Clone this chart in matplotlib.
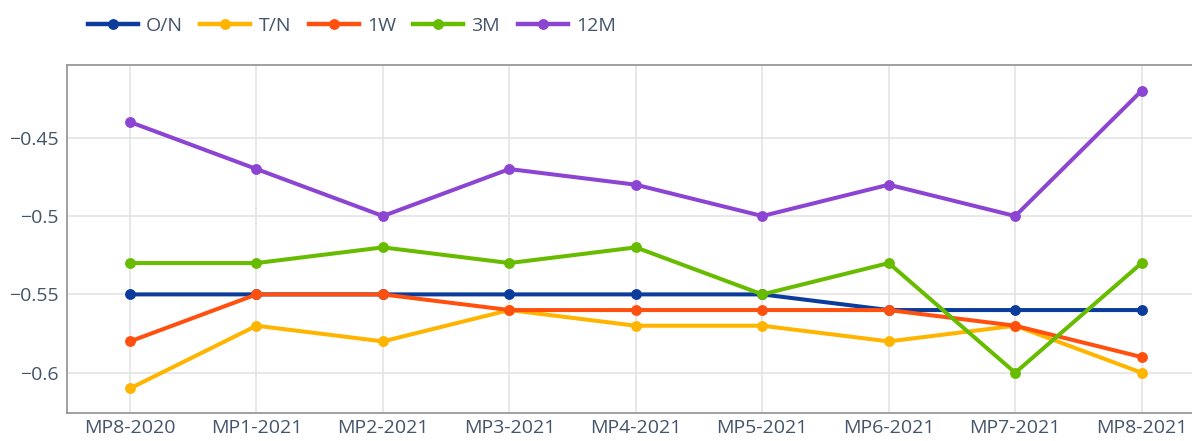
import matplotlib
matplotlib.use("Agg")
import matplotlib.pyplot as plt
from matplotlib.lines import Line2D

categories = ["MP8-2020", "MP1-2021", "MP2-2021", "MP3-2021", "MP4-2021",
              "MP5-2021", "MP6-2021", "MP7-2021", "MP8-2021"]
on_vals  = [-0.55, -0.55, -0.55, -0.55, -0.55, -0.55, -0.56, -0.56, -0.56]
tn_vals  = [-0.61, -0.57, -0.58, -0.56, -0.57, -0.57, -0.58, -0.57, -0.60]
w1_vals  = [-0.58, -0.55, -0.55, -0.56, -0.56, -0.56, -0.56, -0.57, -0.59]
m3_vals  = [-0.53, -0.53, -0.52, -0.53, -0.52, -0.55, -0.53, -0.60, -0.53]
m12_vals = [-0.44, -0.47, -0.50, -0.47, -0.48, -0.50, -0.48, -0.50, -0.42]
series_names = ["O/N", "T/N", "1W", "3M", "12M"]
ytick_vals = [-0.6, -0.55, -0.5, -0.45]
ytick_labels = ["\u22120.6", "\u22120.55", "\u22120.5", "\u22120.45"]

colors = ["#0B3C9C", "#FFB400", "#FF5010", "#68BC00", "#8C45D2"]
series = [on_vals, tn_vals, w1_vals, m3_vals, m12_vals]

plt.rcParams['font.family'] = ['Open Sans', 'DejaVu Sans']
fig = plt.figure(figsize=(11.92, 4.41), dpi=100)
ax = fig.add_axes([66.8 / 1192, 28 / 441, 1138.1 / 1192, 348 / 441])

x = list(range(len(categories)))
for vals, c, name in zip(series, colors, series_names):
    ax.plot(x, vals, color=c, lw=2.9, marker='o', ms=6.8, label=name,
            solid_capstyle='round', zorder=3)

ax.set_xlim(-0.5, len(categories) - 0.5)
ax.set_ylim(-0.6257, -0.4036)
ax.set_xticks(x)
ax.set_xticklabels(categories)
ax.set_yticks(ytick_vals)
ax.set_yticklabels(ytick_labels)
ax.tick_params(axis='both', length=0, labelsize=14, colors='#44546A')
ax.tick_params(axis='y', pad=6)
ax.tick_params(axis='x', pad=4)
ax.grid(True, color='#E2E2E2', lw=1.1, zorder=0)
ax.set_axisbelow(True)
for s in ['left', 'bottom', 'top']:
    ax.spines[s].set_color('#999999')
    ax.spines[s].set_linewidth(1.3)
ax.spines['right'].set_visible(False)

handles = [Line2D([0], [0], color=c, lw=3.2, marker='o', ms=6.8) for c in colors]
leg = fig.legend(handles, series_names, loc='upper left', ncol=5,
                 bbox_to_anchor=(80 / 1192, 1 - 9 / 441), frameon=False,
                 fontsize=14, handlelength=2.57, handletextpad=0.42,
                 columnspacing=0.9, borderaxespad=0)
for t in leg.get_texts():
    t.set_color('#44546A')

fig.savefig("out.png", dpi=100)
